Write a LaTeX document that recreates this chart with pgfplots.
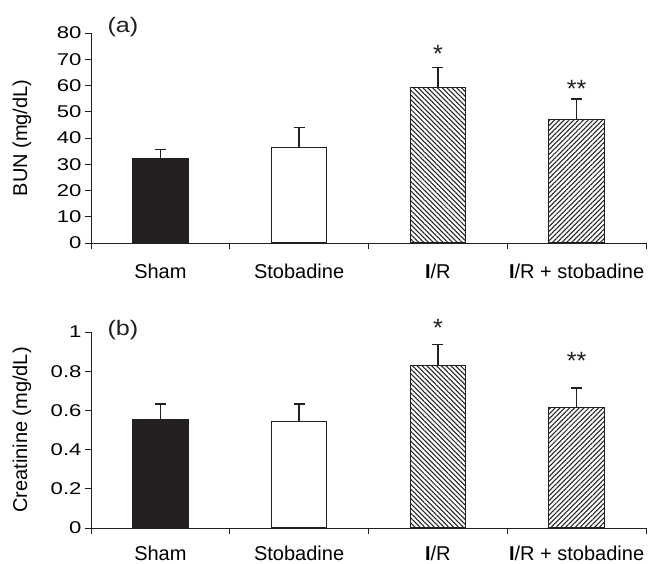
\documentclass[border=0pt]{standalone}
\usepackage{pgfplots}
\pgfplotsset{compat=1.18}
\usepackage{fontspec}
\setmainfont{Liberation Sans}
\newfontfamily\tickfont{Liberation Sans}[FakeStretch=1.3]
\newfontfamily\panelfont{Liberation Sans}[FakeStretch=1.2]
\usetikzlibrary{patterns.meta}
\definecolor{ink}{RGB}{35,31,32}

\tikzset{
 star/.style={anchor=base, font=\fontsize{25}{28}\selectfont, text=ink},
 paneltag/.style={anchor=center, font=\panelfont\fontsize{21}{24}\selectfont, text=ink},
}
\pgfplotsset{
 panel/.style={
  scale only axis, width=555pt, xmin=-0.5, xmax=3.5, ymin=0,
  axis x line=bottom, axis y line=left,
  axis line style={-, ink, line width=0.9pt},
  tick align=outside, major tick length=6pt,
  tick style={ink, line width=0.9pt},
  xtick={-0.5,0.5,1.5,2.5,3.5}, xticklabels={},
  extra x ticks={0,1,2,3},
  extra x tick labels={Sham,Stobadine,\textbf{I}/R,\textbf{I}/R + stobadine},
  yticklabel style={font=\tickfont\fontsize{17}{20}\selectfont,
    /pgf/number format/assume math mode=true},
  ylabel style={at={(rel axis cs:-0.1243,0.5)}, anchor=center,
    font=\fontsize{20}{24}\selectfont},
  clip=false,
 },
 xlab/.style={extra x tick style={major tick length=0pt, tick style={draw=none},
    xticklabel style={anchor=base, yshift=#1, font=\fontsize{20}{24}\selectfont}}},
 bars/.style={ybar, bar width=0.4, bar shift=0pt, draw=ink, line width=1pt,
  error bars/y dir=plus, error bars/y explicit,
  error bars/error bar style={ink, line width=1.4pt},
  error bars/error mark options={rotate=90, mark size=5.5pt, ink, line width=1.4pt}},
}

\begin{document}
\begin{tikzpicture}
\path[use as bounding box] (0,0) rectangle (648pt,564pt);

% (a) BUN
\begin{axis}[panel, xlab=-36pt, at={(91pt,321pt)}, anchor=south west, height=210pt,
  ymax=80, ytick={0,10,20,30,40,50,60,70,80}, ylabel={BUN (mg/dL)}]
\addplot[bars, fill=ink] coordinates {(0,32.0) +- (0,3.6)};
\addplot[bars, fill=white] coordinates {(1,36.2) +- (0,7.7)};
\addplot[bars, pattern={Lines[angle=-45, distance=3.4pt, line width=1.05pt]}, pattern color=ink]
  coordinates {(2,59.4) +- (0,7.4)};
\addplot[bars, pattern={Lines[angle=45, distance=3.4pt, line width=1.05pt]}, pattern color=ink]
  coordinates {(3,46.9) +- (0,8.0)};
\node[star] at (axis cs:2,68.9) {*};
\node[star] at (axis cs:3,55.5) {**};
\node[paneltag] at (axis cs:-0.27,82.3) {(a)};
\end{axis}

% (b) Creatinine
\begin{axis}[panel, xlab=-33pt, at={(91pt,36pt)}, anchor=south west, height=196pt,
  ymax=1, ytick={0,0.2,0.4,0.6,0.8,1}, ylabel={Creatinine (mg/dL)},
  yticklabel style={/pgf/number format/fixed, /pgf/number format/precision=1}]
\addplot[bars, fill=ink] coordinates {(0,0.553) +- (0,0.079)};
\addplot[bars, fill=white] coordinates {(1,0.541) +- (0,0.091)};
\addplot[bars, pattern={Lines[angle=-45, distance=3.4pt, line width=1.05pt]}, pattern color=ink]
  coordinates {(2,0.831) +- (0,0.104)};
\addplot[bars, pattern={Lines[angle=45, distance=3.4pt, line width=1.05pt]}, pattern color=ink]
  coordinates {(3,0.613) +- (0,0.101)};
\node[star] at (axis cs:2,0.978) {*};
\node[star] at (axis cs:3,0.809) {**};
\node[paneltag] at (axis cs:-0.27,1.01) {(b)};
\end{axis}
\end{tikzpicture}
\end{document}
